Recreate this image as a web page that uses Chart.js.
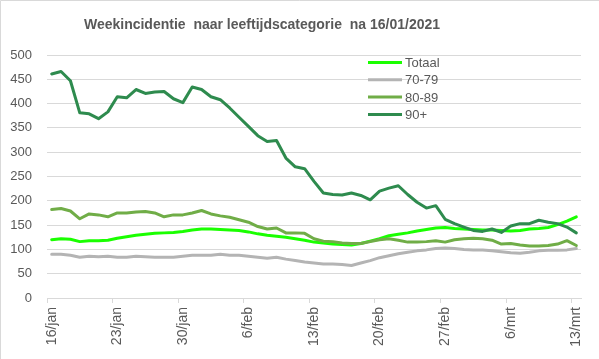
<!DOCTYPE html>
<html>
<head>
<meta charset="utf-8">
<title>Weekincidentie naar leeftijdscategorie</title>
<script src="https://cdn.jsdelivr.net/npm/chart.js@4"></script>
<style>
  html, body { margin: 0; padding: 0; background: #fff; overflow: hidden; }
  #chart { display: block; }
</style>
</head>
<body>
<canvas id="chart" width="599" height="359"></canvas>
<script>
// dagen 16/jan t/m 13/mrt
const labels = [
    "16/jan", "17/jan", "18/jan", "19/jan", "20/jan", "21/jan", "22/jan",
    "23/jan", "24/jan", "25/jan", "26/jan", "27/jan", "28/jan", "29/jan",
    "30/jan", "31/jan", "1/feb", "2/feb", "3/feb", "4/feb", "5/feb",
    "6/feb", "7/feb", "8/feb", "9/feb", "10/feb", "11/feb", "12/feb",
    "13/feb", "14/feb", "15/feb", "16/feb", "17/feb", "18/feb", "19/feb",
    "20/feb", "21/feb", "22/feb", "23/feb", "24/feb", "25/feb", "26/feb",
    "27/feb", "28/feb", "1/mrt", "2/mrt", "3/mrt", "4/mrt", "5/mrt",
    "6/mrt", "7/mrt", "8/mrt", "9/mrt", "10/mrt", "11/mrt", "12/mrt",
    "13/mrt"
];

const totaal = [
    120, 122, 121, 116, 118, 118, 119, 123, 126, 129, 131, 133, 134, 135,
    137, 140, 142, 142, 141, 140, 139, 136, 132, 129, 127, 125, 122, 119,
    115, 113, 111, 110, 109, 112, 117, 122, 128, 131, 134, 138, 141, 144,
    145, 143, 142, 141, 140, 140, 139, 138, 139, 142, 143, 145, 151, 158,
    167
];

const leeftijd7079 = [
    90, 90, 88, 84, 86, 85, 86, 84, 84, 86, 85, 84, 84, 84,
    86, 88, 88, 88, 90, 88, 88, 86, 84, 82, 84, 80, 77, 74,
    72, 70, 70, 69, 67, 72, 77, 83, 87, 91, 94, 97, 99, 102,
    103, 102, 100, 99, 99, 97, 95, 93, 92, 94, 97, 98, 98, 99,
    102
];

const leeftijd8089 = [
    182, 184, 179, 163, 173, 171, 167, 175, 175, 177, 178, 175, 167, 171,
    171, 175, 180, 173, 169, 166, 161, 156, 147, 142, 144, 134, 134, 133,
    122, 117, 116, 113, 112, 112, 116, 120, 122, 119, 115, 115, 116, 118,
    115, 120, 122, 123, 122, 119, 111, 112, 109, 107, 107, 108, 111, 118,
    108
];

const leeftijd90plus = [
    461, 466, 447, 381, 379, 369, 383, 414, 412, 429, 421, 424, 425, 410,
    402, 434, 429, 414, 408, 391, 372, 353, 334, 322, 324, 288, 270, 266,
    240, 216, 213, 212, 216, 211, 202, 220, 226, 231, 213, 197, 185, 190,
    162, 153, 146, 139, 137, 142, 135, 148, 153, 153, 160, 156, 153, 146,
    134
];

const yTicks = { min: 0, max: 500, step: 50 };
const labelStep = 7;

const textColor = "#595959";
const gridColor = "#d9d9d9";
const fontFamily = '"Liberation Sans", Arial, sans-serif';

// achtergrond + rand links/boven
const backgroundPlugin = {
    id: "background",
    beforeDraw(chart) {
        const ctx = chart.ctx;
        ctx.save();
        ctx.fillStyle = "#fff";
        ctx.fillRect(0, 0, chart.width, chart.height);
        ctx.strokeStyle = gridColor;
        ctx.lineWidth = 1;
        ctx.beginPath();
        ctx.moveTo(0.5, chart.height);
        ctx.lineTo(0.5, 0.5);
        ctx.lineTo(chart.width, 0.5);
        ctx.stroke();
        ctx.restore();
    }
};

// titel, iets links van het midden zoals in Excel
const titlePlugin = {
    id: "excelTitle",
    afterDraw(chart) {
        const ctx = chart.ctx;
        ctx.save();
        ctx.font = "bold 14px " + fontFamily;
        ctx.fillStyle = textColor;
        ctx.textAlign = "center";
        ctx.textBaseline = "middle";
        ctx.fillText("Weekincidentie  naar leeftijdscategorie  na 16/01/2021", 262, 25);
        ctx.restore();
    }
};

// legenda binnen het plotvlak
const legendPlugin = {
    id: "innerLegend",
    afterDraw(chart) {
        const ctx = chart.ctx;
        ctx.save();
        ctx.font = "13px " + fontFamily;
        ctx.textBaseline = "middle";
        ctx.textAlign = "left";
        chart.data.datasets.forEach((ds, i) => {
            const y = 62.5 + i * 17.3;
            ctx.strokeStyle = ds.borderColor;
            ctx.lineWidth = 3;
            ctx.beginPath();
            ctx.moveTo(368, y);
            ctx.lineTo(402, y);
            ctx.stroke();
            ctx.fillStyle = textColor;
            ctx.fillText(ds.label, 405, y + 1);
        });
        ctx.restore();
    }
};

function lineSet(label, data, color, order) {
    return {
        label: label,
        data: data,
        borderColor: color,
        backgroundColor: color,
        borderWidth: 3,
        pointRadius: 0,
        pointHoverRadius: 0,
        tension: 0,
        borderJoinStyle: "round",
        borderCapStyle: "round",
        order: order
    };
}

new Chart(document.getElementById("chart").getContext("2d"), {
    type: "line",
    data: {
        labels: labels,
        datasets: [
            lineSet("Totaal", totaal, "#1aff00", 3),
            lineSet("70-79", leeftijd7079, "#b4b4b4", 2),
            lineSet("80-89", leeftijd8089, "#70ad47", 1),
            lineSet("90+", leeftijd90plus, "#2e8b4e", 0)
        ]
    },
    options: {
        responsive: false,
        animation: false,
        layout: { padding: { top: 55, right: 18, left: 0, bottom: 0 } },
        plugins: {
            legend: { display: false },
            title: { display: false },
            tooltip: { enabled: false }
        },
        scales: {
            x: {
                offset: true,
                afterFit: (scale) => { scale.height = 61; },
                grid: {
                    offset: true,
                    drawOnChartArea: false,
                    drawTicks: true,
                    tickLength: 5,
                    color: (c) => (c.index !== undefined && c.index % labelStep === 0) ? gridColor : "rgba(0,0,0,0)"
                },
                border: { display: true, color: gridColor },
                ticks: {
                    autoSkip: false,
                    maxRotation: 90,
                    minRotation: 90,
                    padding: 4,
                    color: textColor,
                    font: { family: fontFamily, size: 14 },
                    callback: function (val, i) {
                        return i % labelStep === 0 ? this.getLabelForValue(val) : "";
                    }
                }
            },
            y: {
                min: yTicks.min,
                max: yTicks.max,
                afterFit: (scale) => { scale.width = 47; },
                grid: { color: gridColor, drawTicks: false },
                border: { display: false },
                ticks: {
                    stepSize: yTicks.step,
                    padding: 15,
                    color: textColor,
                    font: { family: fontFamily, size: 13 }
                }
            }
        }
    },
    plugins: [backgroundPlugin, titlePlugin, legendPlugin]
});
</script>
</body>
</html>
